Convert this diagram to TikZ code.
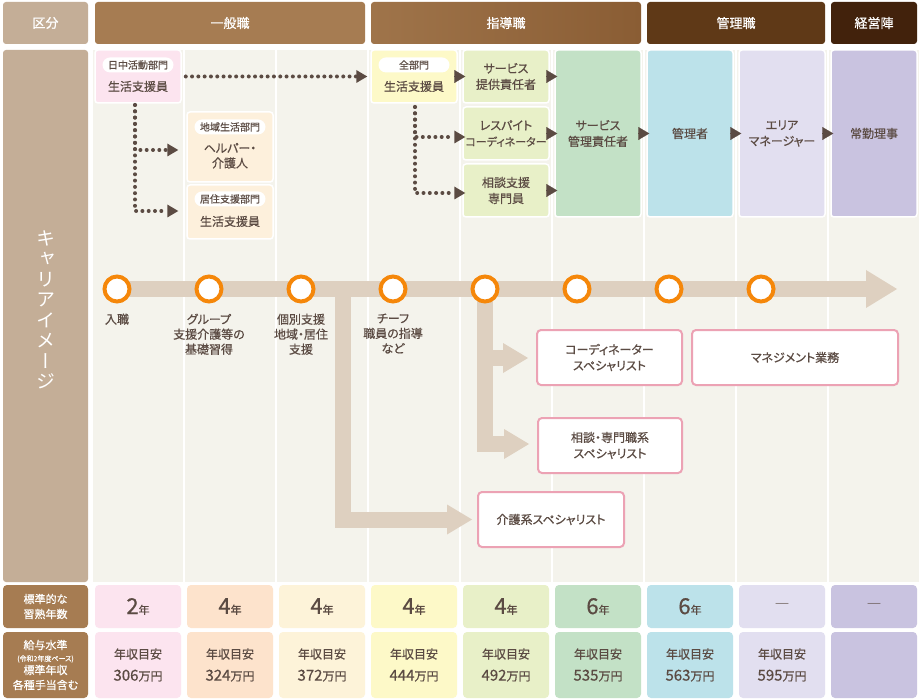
\documentclass[tikz,border=0pt]{standalone}
\usepackage{fontspec}
\setmainfont[RawFeature=+palt, FakeBold=0.6]{Noto Sans CJK JP}
\newfontfamily\tatefont[RawFeature=+vert]{Noto Sans CJK JP}
\newfontfamily\plainjp{Noto Sans CJK JP}
\usetikzlibrary{calc,positioning,arrows.meta}

\definecolor{ink}{HTML}{5B4B43}
\definecolor{tan}{HTML}{C4AE97}
\definecolor{ippan}{HTML}{A67C52}
\definecolor{shidoL}{HTML}{9F744A}
\definecolor{shidoR}{HTML}{8A5D34}
\definecolor{kanrih}{HTML}{5F3917}
\definecolor{keiei}{HTML}{42220C}
\definecolor{colbg}{HTML}{F4F3EC}
\definecolor{band}{HTML}{DED0C0}
\definecolor{stopor}{HTML}{F5870A}
\definecolor{specline}{HTML}{ECA2B4}
\definecolor{cA}{HTML}{FCE4EF}
\definecolor{cB}{HTML}{FDE3CC}
\definecolor{cBl}{HTML}{FDF0DC}
\definecolor{cC}{HTML}{FDF3D9}
\definecolor{cD}{HTML}{FDF9C8}
\definecolor{cE}{HTML}{E8F0C8}
\definecolor{cF}{HTML}{C3E1C6}
\definecolor{cG}{HTML}{BCE2EA}
\definecolor{cH}{HTML}{E2DFF0}
\definecolor{cI}{HTML}{C9C3E0}

\newcommand{\yrs}[1]{{\fontsize{22}{23}\selectfont #1}{\fontsize{11}{12}\selectfont 年}}

\begin{document}
\begin{tikzpicture}[x=1pt, y=-1pt, >=stealth, text=ink, font=\fontsize{12}{16}\selectfont]

% Styles
\tikzset{
  head/.style={rounded corners=3pt, text=white, minimum height=42pt, inner sep=0pt, font=\fontsize{13}{15}\selectfont},
  box/.style={rounded corners=3pt, draw=white, line width=1.5pt, minimum width=86pt, inner sep=1pt, align=center},
  pill/.style={fill=white, rounded corners=7.5pt, minimum width=71pt, minimum height=15pt, inner sep=0pt, font=\fontsize{10}{11}\selectfont},
  lbl/.style={inner sep=1pt, align=center},
  tri/.style={draw=ink, line width=0.2pt, -{Triangle[length=11pt 0 0, width=13pt 0 0]}},
  dots/.style={draw=ink, line width=4pt, line cap=round, dash pattern=on 0pt off 6.3pt, -{Triangle[length=11pt 0 0, width=13pt 0 0, line width=0pt 0 0]}},
  bandline/.style={draw=band, line width=16pt},
  stop/.style={circle, draw=stopor, line width=4pt, fill=white, minimum size=25pt, inner sep=0pt},
  steplabel/.style={inner sep=1pt, align=center, anchor=north, font=\fontsize{12}{15}\selectfont},
  spec/.style={draw=specline, line width=2pt, fill=white, rounded corners=4pt, minimum height=55pt, inner sep=0pt, align=center},
  cell/.style={rounded corners=4pt, minimum width=86pt, inner sep=0pt, align=center}
}

\useasboundingbox (0,0) rectangle (920,700);
\fill[white] (0,0) rectangle (920,700);

% Header row
\node[head, fill=tan, minimum width=85pt] (kubun) at (45.5,23) {区分};
\node[head, fill=ippan, minimum width=270pt] (ippan) at (230,23) {一般職};
\node[head, left color=shidoL, right color=shidoR, minimum width=270pt] (shido) at (506,23) {指導職};
\node[head, fill=kanrih, minimum width=178pt] (kanrishoku) at (736,23) {管理職};
\node[head, fill=keiei, minimum width=86pt] (keieijin) at (874,23) {経営陣};

% Column backgrounds
\foreach \i in {0,...,8}
  \fill[colbg] (93+92*\i,50) rectangle (183+92*\i,582);

\fill[tan, rounded corners=3pt] (3,50) rectangle (88,582);
\node[text=white, align=center, inner sep=0pt, font=\tatefont\fontsize{19}{20.5}\selectfont] (career) at (45.5,310) {キ\\ャ\\リ\\ア\\イ\\メ\\ー\\ジ};

% Job boxes
\node[box, fill=cA, minimum height=53pt] (sien1) at (138,76.5) {};
\node[pill, below=8pt of sien1.north] (sien1tag) {日中活動部門};
\node[lbl, below=7pt of sien1tag] (sien1name) {生活支援員};

\node[box, fill=cBl, minimum height=70pt] (helper) at (230,147) {};
\node[pill, below=8pt of helper.north] (helpertag) {地域生活部門};
\node[lbl, font=\fontsize{12}{15}\selectfont, below=7pt of helpertag] (helpername) {ヘルパー・\\介護人};

\node[box, fill=cBl, minimum height=54pt] (kyoju) at (230,212) {};
\node[pill, below=7pt of kyoju.north] (kyojutag) {居住支援部門};
\node[lbl, below=8pt of kyojutag] (kyojuname) {生活支援員};

\node[box, fill=cD, minimum height=53pt] (zenbu) at (414,76.5) {};
\node[pill, below=8pt of zenbu.north] (zenbutag) {全部門};
\node[lbl, below=7pt of zenbutag] (zenbuname) {生活支援員};

\node[box, fill=cE, minimum height=53pt] (sv1) at (506,76.5) {サービス\\提供責任者};
\node[box, fill=cE, minimum height=53pt] (sv2) at (506,133.5) {レスパイト\\{\fontsize{11}{16}\selectfont コーディネーター}};
\node[box, fill=cE, minimum height=53pt] (sv3) at (506,190.5) {相談支援\\専門員};

\node[box, fill=cF, minimum height=167pt] (skanri) at (598,133.5) {サービス\\管理責任者};
\node[box, fill=cG, minimum height=167pt] (kanri) at (690,133.5) {管理者};
\node[box, fill=cH, minimum height=167pt] (area) at (782,133.5) {エリア\\マネージャー};
\node[box, fill=cI, minimum height=167pt] (riji) at (874,133.5) {常勤理事};

% Promotion arrows
\draw[tri] (zenbu.east) -- ($(sv1.west)+(3,0)$);
\foreach \s in {sv1,sv2,sv3}
  \draw[tri] (\s.east) -- ($(\s.east -| skanri.west)+(3,0)$);
\draw[tri] (skanri.east) -- ($(kanri.west)+(3,0)$);
\draw[tri] (kanri.east) -- ($(area.west)+(3,0)$);
\draw[tri] (area.east) -- ($(riji.west)+(3,0)$);

% Dotted paths
\coordinate (d1) at (135,105);
\coordinate (d2) at (415,107);
\draw[dots] ($(sien1.east)+(4,0)$) -- ($(zenbu.west)+(-3,0)$);
\draw[dots] (d1) |- ($(helper.west)+(-8,3)$);
\draw[dots] (d1) |- ($(kyoju.west)+(-8,-1)$);
\draw[dots] (d2) |- ($(sv2.west)+(3,3.5)$);
\draw[dots] (d2) |- ($(sv3.west)+(3,2.5)$);

% Specialist boxes
\node[spec, minimum width=145pt] (coordsp) at (609.5,357.5) {コーディネーター\\スペシャリスト};
\node[spec, minimum width=206pt] (mgmt) at (795,357.5) {マネジメント業務};
\node[spec, minimum width=144pt] (soudansp) at (610,445.5) {相談・専門職系\\スペシャリスト};
\node[spec, minimum width=146pt] (kaigosp) at (551,519.5) {介護系スペシャリスト};

% Timeline
\foreach \i in {1,...,8}
  \coordinate (p\i) at (25+92*\i,289);
\coordinate (tlend) at (897,289);
\coordinate (br) at (343,289);
\draw[bandline, -{Triangle[length=31pt 0 0, width=38pt 0 0, line width=0pt 0 0]}] (p1) -- (tlend);
\draw[bandline, -{Triangle[length=25pt 0 0, width=30pt 0 0, line width=0pt 0 0]}] (br) |- ($(kaigosp.west)+(-5,0)$);
\draw[bandline, -{Triangle[length=25pt 0 0, width=30pt 0 0, line width=0pt 0 0]}] (p5) |- ($(coordsp.west)+(-8,0.5)$);
\draw[bandline, -{Triangle[length=25pt 0 0, width=30pt 0 0, line width=0pt 0 0]}] (p5) |- ($(soudansp.west)+(-8,-1.5)$);
\foreach \i in {1,...,8}
  \node[stop] (c\i) at (p\i) {};

\node[steplabel, below=9pt of c1] (l1) {入職};
\node[steplabel, below=9pt of c2] (l2) {グループ\\支援介護等の\\基礎習得};
\node[steplabel, below=9pt of c3] (l3) {個別支援\\地域・居住\\支援};
\node[steplabel, below=9pt of c4] (l4) {チーフ\\職員の指導\\など};

% Bottom rows
\node[cell, fill=ippan, text=white, minimum width=85pt, minimum height=43pt, font=\fontsize{11}{15}\selectfont] (nensu) at (45.5,606.5) {標準的な\\習熟年数};
\node[cell, fill=ippan, text=white, minimum width=85pt, minimum height=66pt, font=\fontsize{11}{15}\selectfont] (kyuyo) at (45.5,665) {給与水準\\[-3pt]{\fontsize{7}{8}\selectfont (令和2年度ベース)}\\[-2pt]標準年収\\各種手当含む};

\foreach \c/\t [count=\i from 0] in {cA/\yrs{2}, cB/\yrs{4}, cC/\yrs{4}, cD/\yrs{4}, cE/\yrs{4}, cF/\yrs{6}, cG/\yrs{6}, cH/{\plainjp\fontsize{15}{16}\selectfont ―}, cI/{\plainjp\fontsize{15}{16}\selectfont ―}}
  \node[cell, fill=\c, minimum height=43pt] (yr\i) at (138+92*\i,606.5) {\t};

\foreach \c/\t [count=\i from 0] in {cA/306, cB/324, cC/372, cD/444, cE/492, cF/535, cG/563, cH/595}
  \node[cell, fill=\c, minimum height=66pt, font=\fontsize{12}{17}\selectfont] (pay\i) at (138+92*\i,665) {年収目安\\[5pt]{\fontsize{15}{17}\selectfont\t}万円};
\node[cell, fill=cI, minimum height=66pt] (pay8) at (874,665) {};

\end{tikzpicture}
\end{document}
